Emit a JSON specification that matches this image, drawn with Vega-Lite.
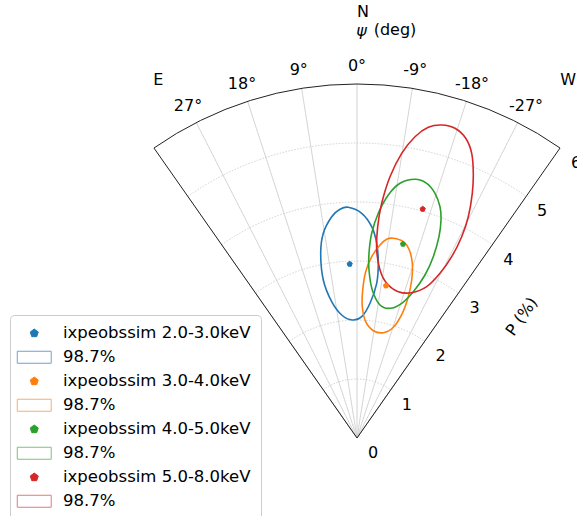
{
  "$schema": "https://vega.github.io/schema/vega-lite/v6.json",
  "width": 577,
  "height": 516,
  "padding": 0,
  "autosize": {"type": "none"},
  "background": "#ffffff",
  "config": {
    "view": {"stroke": null},
    "font": "DejaVu Sans",
    "text": {"font": "DejaVu Sans", "fontSize": 16, "color": "#000000"}
  },
  "layer": [
    {
      "description": "radial grid circles at P = 1..5",
      "data": {"values": [{"r": 1}, {"r": 2}, {"r": 3}, {"r": 4}, {"r": 5}]},
      "mark": {"type": "arc", "fill": null, "stroke": "#cccccc", "strokeWidth": 0.9, "strokeDash": [1.5, 1.5]},
      "encoding": {
        "x": {"datum": 0, "type": "quantitative", "scale": {"domain": [-6.05085, 3.72881], "nice": false, "zero": false}, "axis": null},
        "y": {"datum": 0, "type": "quantitative", "scale": {"domain": [-1.32203, 7.42373], "nice": false, "zero": false}, "axis": null},
        "theta": {"datum": 35, "type": "quantitative", "scale": {"domain": [-35, 35], "range": [0.6108652, -0.6108652], "zero": false}},
        "theta2": {"datum": -35},
        "radius": {"field": "r", "type": "quantitative", "stack": null, "scale": {"type": "linear", "domain": [0, 6], "range": [0, 354], "zero": false}}
      }
    },
    {
      "description": "angular grid lines",
      "data": {"values": [{"psi": 27}, {"psi": 18}, {"psi": 9}, {"psi": 0}, {"psi": -9}, {"psi": -18}, {"psi": -27}]},
      "mark": {"type": "arc", "fill": null, "stroke": "#cccccc", "strokeWidth": 0.9, "strokeDash": [1.5, 1.5]},
      "encoding": {
        "x": {"datum": 0, "type": "quantitative"},
        "y": {"datum": 0, "type": "quantitative"},
        "theta": {"field": "psi", "type": "quantitative", "stack": null},
        "theta2": {"field": "psi"},
        "radius": {"datum": 6, "type": "quantitative"}
      }
    },
    {
      "description": "wedge outline",
      "data": {"values": [{"edge": "frame"}]},
      "mark": {"type": "arc", "fill": null, "stroke": "#222222", "strokeWidth": 1},
      "encoding": {
        "x": {"datum": 0, "type": "quantitative"},
        "y": {"datum": 0, "type": "quantitative"},
        "theta": {"datum": 35, "type": "quantitative"},
        "theta2": {"datum": -35},
        "radius": {"datum": 6, "type": "quantitative"}
      }
    },
    {
      "description": "98.7% confidence contours",
      "data": {"values": [
        {"band": "2.0-3.0keV", "i": 0, "x": -0.1475, "y": 3.9102},
        {"band": "2.0-3.0keV", "i": 1, "x": 0.0797, "y": 3.8085},
        {"band": "2.0-3.0keV", "i": 2, "x": 0.2492, "y": 3.5814},
        {"band": "2.0-3.0keV", "i": 3, "x": 0.3339, "y": 3.3000},
        {"band": "2.0-3.0keV", "i": 4, "x": 0.3610, "y": 2.9610},
        {"band": "2.0-3.0keV", "i": 5, "x": 0.3339, "y": 2.6220},
        {"band": "2.0-3.0keV", "i": 6, "x": 0.2203, "y": 2.2831},
        {"band": "2.0-3.0keV", "i": 7, "x": 0.0797, "y": 2.0559},
        {"band": "2.0-3.0keV", "i": 8, "x": -0.0797, "y": 2.0000},
        {"band": "2.0-3.0keV", "i": 9, "x": -0.2593, "y": 2.0847},
        {"band": "2.0-3.0keV", "i": 10, "x": -0.4288, "y": 2.3102},
        {"band": "2.0-3.0keV", "i": 11, "x": -0.5712, "y": 2.6780},
        {"band": "2.0-3.0keV", "i": 12, "x": -0.6153, "y": 3.1305},
        {"band": "2.0-3.0keV", "i": 13, "x": -0.5712, "y": 3.4695},
        {"band": "2.0-3.0keV", "i": 14, "x": -0.4288, "y": 3.7508},
        {"band": "2.0-3.0keV", "i": 15, "x": -0.2881, "y": 3.8763},

        {"band": "3.0-4.0keV", "i": 0, "x": 0.6153, "y": 3.3847},
        {"band": "3.0-4.0keV", "i": 1, "x": 0.7847, "y": 3.3271},
        {"band": "3.0-4.0keV", "i": 2, "x": 0.8864, "y": 3.1864},
        {"band": "3.0-4.0keV", "i": 3, "x": 0.9373, "y": 2.9610},
        {"band": "3.0-4.0keV", "i": 4, "x": 0.9271, "y": 2.6780},
        {"band": "3.0-4.0keV", "i": 5, "x": 0.8695, "y": 2.3949},
        {"band": "3.0-4.0keV", "i": 6, "x": 0.7678, "y": 2.1136},
        {"band": "3.0-4.0keV", "i": 7, "x": 0.6153, "y": 1.8763},
        {"band": "3.0-4.0keV", "i": 8, "x": 0.4458, "y": 1.7847},
        {"band": "3.0-4.0keV", "i": 9, "x": 0.2763, "y": 1.8186},
        {"band": "3.0-4.0keV", "i": 10, "x": 0.1475, "y": 1.9712},
        {"band": "3.0-4.0keV", "i": 11, "x": 0.0898, "y": 2.2254},
        {"band": "3.0-4.0keV", "i": 12, "x": 0.0966, "y": 2.5085},
        {"band": "3.0-4.0keV", "i": 13, "x": 0.1475, "y": 2.8186},
        {"band": "3.0-4.0keV", "i": 14, "x": 0.2492, "y": 3.0729},
        {"band": "3.0-4.0keV", "i": 15, "x": 0.3898, "y": 3.2712},
        {"band": "3.0-4.0keV", "i": 16, "x": 0.5034, "y": 3.3678},

        {"band": "4.0-5.0keV", "i": 0, "x": 0.9831, "y": 4.3847},
        {"band": "4.0-5.0keV", "i": 1, "x": 1.1814, "y": 4.3169},
        {"band": "4.0-5.0keV", "i": 2, "x": 1.3220, "y": 4.1475},
        {"band": "4.0-5.0keV", "i": 3, "x": 1.4068, "y": 3.9203},
        {"band": "4.0-5.0keV", "i": 4, "x": 1.4237, "y": 3.6949},
        {"band": "4.0-5.0keV", "i": 5, "x": 1.3898, "y": 3.4119},
        {"band": "4.0-5.0keV", "i": 6, "x": 1.2932, "y": 3.0729},
        {"band": "4.0-5.0keV", "i": 7, "x": 1.1525, "y": 2.7627},
        {"band": "4.0-5.0keV", "i": 8, "x": 0.9542, "y": 2.4797},
        {"band": "4.0-5.0keV", "i": 9, "x": 0.7576, "y": 2.2831},
        {"band": "4.0-5.0keV", "i": 10, "x": 0.5593, "y": 2.1983},
        {"band": "4.0-5.0keV", "i": 11, "x": 0.3898, "y": 2.2542},
        {"band": "4.0-5.0keV", "i": 12, "x": 0.2593, "y": 2.5085},
        {"band": "4.0-5.0keV", "i": 13, "x": 0.2034, "y": 2.8475},
        {"band": "4.0-5.0keV", "i": 14, "x": 0.2034, "y": 3.1305},
        {"band": "4.0-5.0keV", "i": 15, "x": 0.2492, "y": 3.4695},
        {"band": "4.0-5.0keV", "i": 16, "x": 0.3610, "y": 3.8085},
        {"band": "4.0-5.0keV", "i": 17, "x": 0.5305, "y": 4.1186},
        {"band": "4.0-5.0keV", "i": 18, "x": 0.7288, "y": 4.3169},

        {"band": "5.0-8.0keV", "i": 0, "x": 1.4356, "y": 5.3051},
        {"band": "5.0-8.0keV", "i": 1, "x": 1.6610, "y": 5.2492},
        {"band": "5.0-8.0keV", "i": 2, "x": 1.8424, "y": 5.0797},
        {"band": "5.0-8.0keV", "i": 3, "x": 1.9441, "y": 4.8254},
        {"band": "5.0-8.0keV", "i": 4, "x": 1.9712, "y": 4.4864},
        {"band": "5.0-8.0keV", "i": 5, "x": 1.9542, "y": 4.1475},
        {"band": "5.0-8.0keV", "i": 6, "x": 1.8864, "y": 3.7508},
        {"band": "5.0-8.0keV", "i": 7, "x": 1.7746, "y": 3.4119},
        {"band": "5.0-8.0keV", "i": 8, "x": 1.6051, "y": 3.0729},
        {"band": "5.0-8.0keV", "i": 9, "x": 1.4068, "y": 2.7915},
        {"band": "5.0-8.0keV", "i": 10, "x": 1.1814, "y": 2.5644},
        {"band": "5.0-8.0keV", "i": 11, "x": 0.9271, "y": 2.4627},
        {"band": "5.0-8.0keV", "i": 12, "x": 0.7000, "y": 2.4797},
        {"band": "5.0-8.0keV", "i": 13, "x": 0.5034, "y": 2.6220},
        {"band": "5.0-8.0keV", "i": 14, "x": 0.3898, "y": 2.8475},
        {"band": "5.0-8.0keV", "i": 15, "x": 0.3339, "y": 3.1864},
        {"band": "5.0-8.0keV", "i": 16, "x": 0.3508, "y": 3.5814},
        {"band": "5.0-8.0keV", "i": 17, "x": 0.4186, "y": 3.9780},
        {"band": "5.0-8.0keV", "i": 18, "x": 0.5593, "y": 4.4288},
        {"band": "5.0-8.0keV", "i": 19, "x": 0.7576, "y": 4.8254},
        {"band": "5.0-8.0keV", "i": 20, "x": 0.9831, "y": 5.1068},
        {"band": "5.0-8.0keV", "i": 21, "x": 1.2085, "y": 5.2661}
      ]},
      "mark": {"type": "line", "interpolate": "cardinal-closed", "strokeWidth": 1.6},
      "encoding": {
        "x": {"field": "x", "type": "quantitative"},
        "y": {"field": "y", "type": "quantitative"},
        "order": {"field": "i", "type": "quantitative"},
        "color": {
          "field": "band", "type": "nominal", "legend": null,
          "scale": {"domain": ["2.0-3.0keV", "3.0-4.0keV", "4.0-5.0keV", "5.0-8.0keV"], "range": ["#1f77b4", "#ff7f0e", "#2ca02c", "#d62728"]}
        }
      }
    },
    {
      "description": "best-fit polarization per energy band",
      "data": {"values": [
        {"entry": "ixpeobssim 2.0-3.0keV", "x": -0.1237, "y": 2.9492},
        {"entry": "ixpeobssim 3.0-4.0keV", "x": 0.4915, "y": 2.5814},
        {"entry": "ixpeobssim 4.0-5.0keV", "x": 0.7797, "y": 3.2881},
        {"entry": "ixpeobssim 5.0-8.0keV", "x": 1.1136, "y": 3.8814}
      ]},
      "mark": {"type": "point", "filled": true, "opacity": 1, "size": 60, "strokeWidth": 1},
      "encoding": {
        "x": {"field": "x", "type": "quantitative"},
        "y": {"field": "y", "type": "quantitative"},
        "shape": {
          "field": "entry", "type": "nominal",
          "scale": {
            "domain": ["ixpeobssim 2.0-3.0keV", "98.7% (2.0-3.0keV)", "ixpeobssim 3.0-4.0keV", "98.7% (3.0-4.0keV)", "ixpeobssim 4.0-5.0keV", "98.7% (4.0-5.0keV)", "ixpeobssim 5.0-8.0keV", "98.7% (5.0-8.0keV)"],
            "range": [
              "M0,-0.7L0.666,-0.216L0.411,0.566L-0.411,0.566L-0.666,-0.216Z",
              "M-2.83,-1L2.83,-1L2.83,1L-2.83,1Z",
              "M0,-0.7L0.666,-0.216L0.411,0.566L-0.411,0.566L-0.666,-0.216Z",
              "M-2.83,-1L2.83,-1L2.83,1L-2.83,1Z",
              "M0,-0.7L0.666,-0.216L0.411,0.566L-0.411,0.566L-0.666,-0.216Z",
              "M-2.83,-1L2.83,-1L2.83,1L-2.83,1Z",
              "M0,-0.7L0.666,-0.216L0.411,0.566L-0.411,0.566L-0.666,-0.216Z",
              "M-2.83,-1L2.83,-1L2.83,1L-2.83,1Z"
            ]
          },
          "legend": {
            "title": null,
            "orient": "none",
            "legendX": 10,
            "legendY": 315,
            "padding": 10,
            "strokeColor": "#cccccc",
            "fillColor": "#ffffff",
            "cornerRadius": 4,
            "labelFont": "DejaVu Sans",
            "labelFontSize": 16.5,
            "labelColor": "#000000",
            "labelLimit": 400,
            "labelExpr": "split(datum.label, ' (')[0]",
            "symbolSize": 144,
            "symbolStrokeWidth": 1,
            "symbolOffset": 6,
            "labelOffset": 20.5,
            "rowPadding": 7
          }
        },
        "fill": {
          "field": "entry", "type": "nominal",
          "scale": {
            "domain": ["ixpeobssim 2.0-3.0keV", "98.7% (2.0-3.0keV)", "ixpeobssim 3.0-4.0keV", "98.7% (3.0-4.0keV)", "ixpeobssim 4.0-5.0keV", "98.7% (4.0-5.0keV)", "ixpeobssim 5.0-8.0keV", "98.7% (5.0-8.0keV)"],
            "range": ["#1f77b4", "transparent", "#ff7f0e", "transparent", "#2ca02c", "transparent", "#d62728", "transparent"]
          }
        },
        "stroke": {
          "field": "entry", "type": "nominal",
          "scale": {
            "domain": ["ixpeobssim 2.0-3.0keV", "98.7% (2.0-3.0keV)", "ixpeobssim 3.0-4.0keV", "98.7% (3.0-4.0keV)", "ixpeobssim 4.0-5.0keV", "98.7% (4.0-5.0keV)", "ixpeobssim 5.0-8.0keV", "98.7% (5.0-8.0keV)"],
            "range": ["#1f77b4", "#6fa3d2", "#ff7f0e", "#fbae6a", "#2ca02c", "#7cc47a", "#d62728", "#e47a7a"]
          }
        }
      }
    },
    {
      "description": "position angle tick labels",
      "data": {"values": [
        {"psi": 27, "lab": "27°"}, {"psi": 18, "lab": "18°"}, {"psi": 9, "lab": "9°"}, {"psi": 0, "lab": "0°"},
        {"psi": -9, "lab": "-9°"}, {"psi": -18, "lab": "-18°"}, {"psi": -27, "lab": "-27°"}
      ]},
      "mark": {"type": "text", "align": "center", "baseline": "middle"},
      "encoding": {
        "x": {"datum": 0, "type": "quantitative"},
        "y": {"datum": 0, "type": "quantitative"},
        "theta": {"field": "psi", "type": "quantitative", "stack": null},
        "radius": {"datum": 6.31, "type": "quantitative"},
        "text": {"field": "lab"}
      }
    },
    {
      "description": "polarization degree tick labels along the western edge",
      "data": {"values": [
        {"r": 0, "lab": "0"}, {"r": 1, "lab": "1"}, {"r": 2, "lab": "2"}, {"r": 3, "lab": "3"},
        {"r": 4, "lab": "4"}, {"r": 5, "lab": "5"}, {"r": 6, "lab": "6"}
      ]},
      "mark": {"type": "text", "align": "center", "baseline": "middle", "dx": 16, "dy": 15},
      "encoding": {
        "x": {"datum": 0, "type": "quantitative"},
        "y": {"datum": 0, "type": "quantitative"},
        "theta": {"datum": -35, "type": "quantitative"},
        "radius": {"field": "r", "type": "quantitative", "stack": null},
        "text": {"field": "lab"}
      }
    },
    {
      "description": "compass and axis titles",
      "data": {"values": [
        {"x": 0.1017, "y": 7.215, "lab": "N"},
        {"x": 0.644, "y": 6.915, "lab": "(deg)"},
        {"x": -3.368, "y": 6.068, "lab": "E"},
        {"x": 3.581, "y": 6.068, "lab": "W"}
      ]},
      "mark": {"type": "text", "align": "center", "baseline": "middle"},
      "encoding": {
        "x": {"field": "x", "type": "quantitative"},
        "y": {"field": "y", "type": "quantitative"},
        "text": {"field": "lab"}
      }
    },
    {
      "data": {"values": [{"x": 0.076, "y": 6.89, "lab": "ψ"}]},
      "mark": {"type": "text", "align": "center", "baseline": "middle", "fontStyle": "italic"},
      "encoding": {
        "x": {"field": "x", "type": "quantitative"},
        "y": {"field": "y", "type": "quantitative"},
        "text": {"field": "lab"}
      }
    },
    {
      "data": {"values": [{"x": 2.7915, "y": 2.0559, "lab": "P (%)"}]},
      "mark": {"type": "text", "align": "center", "baseline": "middle", "angle": 305},
      "encoding": {
        "x": {"field": "x", "type": "quantitative"},
        "y": {"field": "y", "type": "quantitative"},
        "text": {"field": "lab"}
      }
    }
  ]
}
